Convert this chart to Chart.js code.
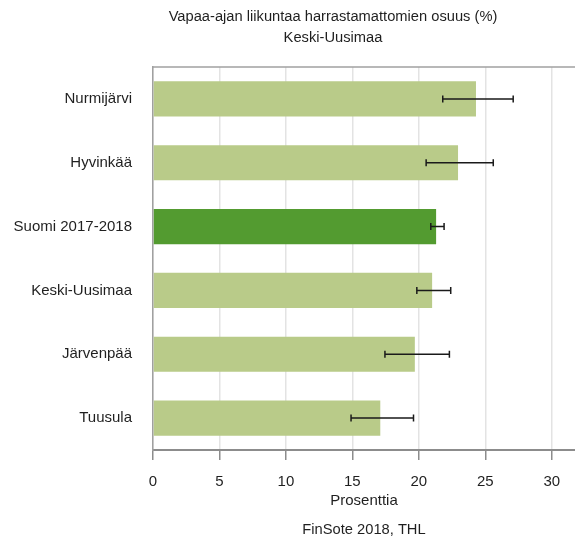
<!DOCTYPE html>
<html>
<head>
<meta charset="utf-8">
<style>
    html, body { margin: 0; padding: 0; background: #fff; overflow: hidden; }
    #wrap { width: 575px; height: 541px; }
</style>
</head>
<body>
<div id="wrap">
    <canvas id="myChart"></canvas>
</div>

<script src="https://cdn.jsdelivr.net/npm/chart.js"></script>

<script>
    // arvot luettu kuvasta
    var categories = ['Nurmijärvi', 'Hyvinkää', 'Suomi 2017-2018', 'Keski-Uusimaa', 'Järvenpää', 'Tuusula'];
    var values = [24.3, 22.95, 21.3, 21.0, 19.7, 17.1];
    var lower = [21.8, 20.55, 20.9, 19.85, 17.45, 14.9];
    var upper = [27.1, 25.6, 21.9, 22.4, 22.3, 19.6];
    var tickValues = [0, 5, 10, 15, 20, 25, 30];
    var titleLines = ['Vapaa-ajan liikuntaa harrastamattomien osuus (%)', 'Keski-Uusimaa'];
    var sourceText = 'FinSote 2018, THL';

    var light = '#b9cb89', dark = '#539b30';
    var colors = categories.map(function (c) { return c.indexOf('Suomi') === 0 ? dark : light; });

    var FONT = '"Liberation Sans", Arial, sans-serif';

    // virhepalkit
    var errorBars = {
        id: 'errorBars',
        afterDatasetsDraw: function (chart) {
            var ctx = chart.ctx, x = chart.scales.x, y = chart.scales.y;
            ctx.save();
            ctx.strokeStyle = '#1a1a1a';
            ctx.lineWidth = 1.5;
            for (var i = 0; i < categories.length; i++) {
                var yc = y.getPixelForValue(i);
                var x1 = x.getPixelForValue(lower[i]), x2 = x.getPixelForValue(upper[i]);
                ctx.beginPath();
                ctx.moveTo(x1, yc); ctx.lineTo(x2, yc);
                ctx.moveTo(x1, yc - 3.5); ctx.lineTo(x1, yc + 3.5);
                ctx.moveTo(x2, yc - 3.5); ctx.lineTo(x2, yc + 3.5);
                ctx.stroke();
            }
            ctx.restore();
        }
    };

    // otsikot, yläreuna ja lähde
    var texts = {
        id: 'texts',
        beforeDatasetsDraw: function (chart) {
            var ctx = chart.ctx, a = chart.chartArea;
            ctx.save();
            ctx.strokeStyle = '#a0a0a0';
            ctx.lineWidth = 1.5;
            ctx.beginPath();
            ctx.moveTo(a.left, a.top); ctx.lineTo(a.right, a.top);
            ctx.stroke();
            ctx.restore();
        },
        afterDraw: function (chart) {
            var ctx = chart.ctx, a = chart.chartArea;
            ctx.save();
            ctx.fillStyle = '#1f1f1f';
            ctx.font = '14.7px ' + FONT;
            ctx.textAlign = 'center';
            ctx.textBaseline = 'middle';
            ctx.fillText(titleLines[0], 333, 17);
            ctx.fillText(titleLines[1], 333, 38);
            ctx.fillText(sourceText, (a.left + a.right) / 2, 530);
            ctx.restore();
        }
    };

    const ctx = document.getElementById('myChart');

    new Chart(ctx, {
        type: 'bar',
        data: {
            labels: categories,
            datasets: [{
                data: values,
                backgroundColor: colors,
                borderWidth: 0,
                barPercentage: 0.55,
                categoryPercentage: 1.0
            }]
        },
        options: {
            indexAxis: 'y',
            responsive: true,
            maintainAspectRatio: false,
            animation: false,
            layout: { padding: { top: 67, right: 0, bottom: 0, left: 0 } },
            scales: {
                x: {
                    min: 0,
                    max: 31.75,
                    afterBuildTicks: function (s) {
                        s.ticks = tickValues.map(function (v) { return { value: v }; });
                    },
                    afterFit: function (s) { s.height = 91; },
                    grid: {
                        color: '#e3e3e3',
                        lineWidth: 1.5,
                        tickColor: '#8c8c8c',
                        tickLength: 10
                    },
                    border: { color: '#8c8c8c', width: 2 },
                    ticks: {
                        color: '#1f1f1f',
                        font: { family: FONT, size: 15 },
                        padding: 13,
                        maxRotation: 0
                    },
                    title: {
                        display: true,
                        text: 'Prosenttia',
                        color: '#1f1f1f',
                        font: { family: FONT, size: 15 },
                        padding: { top: 0, bottom: 31 }
                    }
                },
                y: {
                    afterFit: function (s) { s.width = 153; },
                    grid: { display: false },
                    border: { color: '#a0a0a0', width: 1.5 },
                    ticks: {
                        color: '#1f1f1f',
                        font: { family: FONT, size: 15 },
                        padding: 13
                    }
                }
            },
            plugins: {
                legend: { display: false },
                tooltip: { enabled: false }
            }
        },
        plugins: [errorBars, texts]
    });
</script>
</body>
</html>
